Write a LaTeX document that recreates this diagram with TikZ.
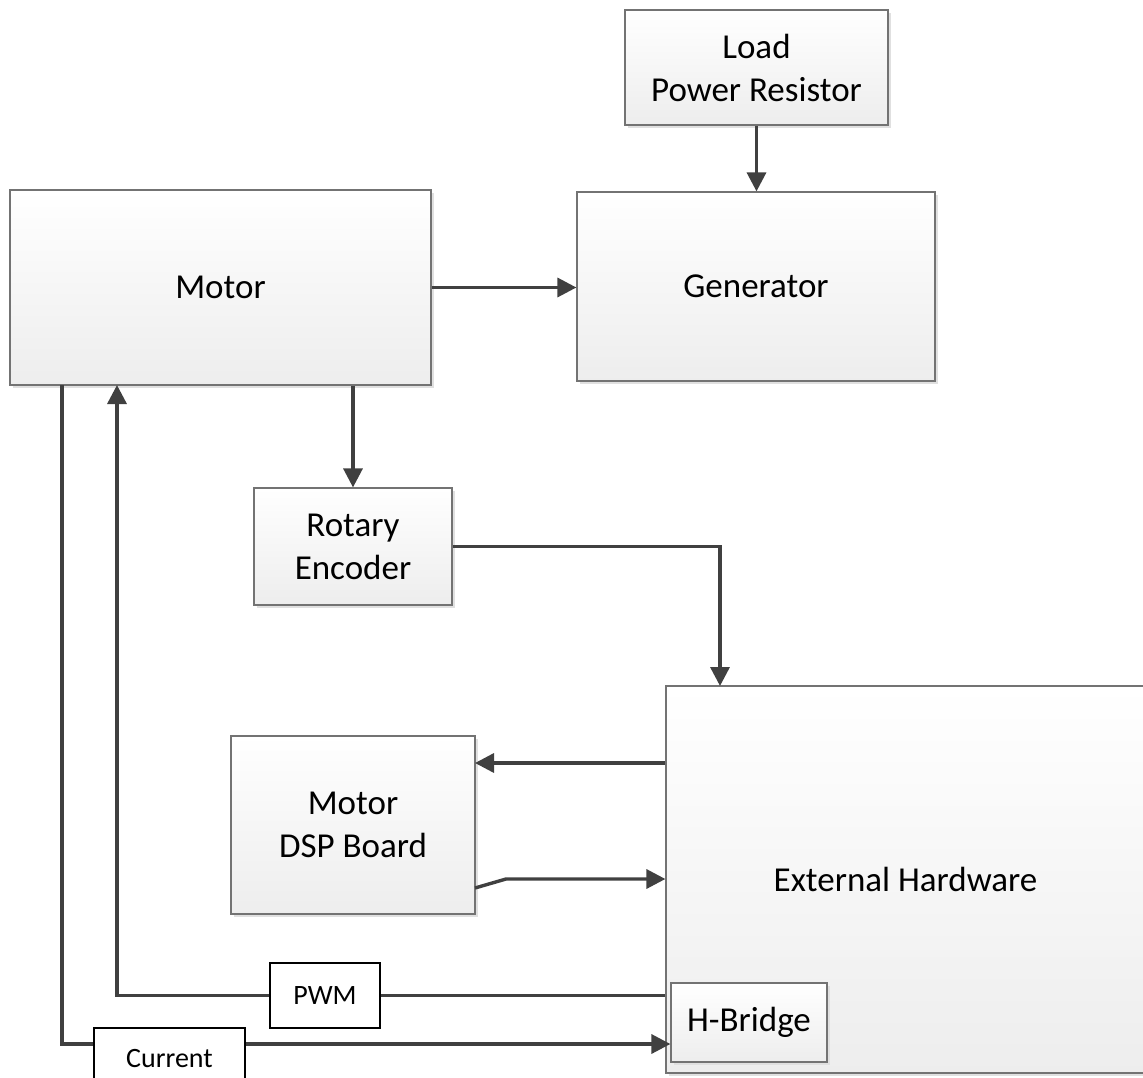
\documentclass[tikz,border=0pt]{standalone}
\usepackage{fontspec}
\setmainfont{Carlito}
\usetikzlibrary{arrows.meta,shadows,positioning}
\tikzset
{
    block/.style = {rectangle, draw=black!55, line width=1.2pt, top color=white, bottom color=black!7, drop shadow={shadow xshift=3pt, shadow yshift=-3pt, fill=black!12, opacity=1}, align=center, inner sep=0pt, font=\fontsize{35}{43}\selectfont},
    tag/.style   = {rectangle, draw=black, line width=2pt, fill=white, align=center, inner sep=0pt, font=\fontsize{28}{34}\selectfont},
    arrow/.style = {line width=3.4pt, draw=black!75, -{Triangle[length=19pt,width=19pt]}},
    wire/.style  = {line width=3.4pt, draw=black!75}
}
\begin{document}
\begin{tikzpicture}[x=1pt, y=-1pt]
    \useasboundingbox (0,0) rectangle (1143,1078);
    \node (load) [block, minimum width=263pt, minimum height=115pt] at (756.5,67.5)  {Load \\ Power Resistor};
    \node (gen)  [block, minimum width=358pt, minimum height=189pt] at (756,286.5)   {Generator};
    \node (motor)[block, minimum width=421pt, minimum height=195pt] at (220.5,287.5) {Motor};
    \node (enc)  [block, minimum width=198pt, minimum height=117pt] at (353,546.5)   {Rotary \\ Encoder};
    \node (ext)  [block, minimum width=479pt, minimum height=387pt] at (905.5,879.5) {External Hardware};
    \node (dsp)  [block, minimum width=244pt, minimum height=178pt] at (353,825)     {Motor \\ DSP Board};
    \node (hb)   [block, minimum width=156pt, minimum height=79pt]  at (749,1022.5)  {H-Bridge};
    \node (pwm)  [tag, minimum width=110pt, minimum height=65pt]    at (325,995.5)   {PWM};
    \node (cur)  [tag, minimum width=151pt, minimum height=62pt]    at (169.5,1059)  {Current};
    \coordinate (extin)  at (720,686);
    \coordinate (dspin)  at (475,763);
    \coordinate (dspout) at (475,888);
    \coordinate (bend)   at (506,879);
    \coordinate (pwmup)  at (117,385);
    \coordinate (curtop) at (62,385);
    \coordinate (curln)  at (62,1044);
    \draw[arrow] (motor.east) -- (motor.east -| gen.west);
    \draw[arrow] (load.south) -- (load.south |- gen.north);
    \draw[arrow] (enc.north |- motor.south) -- (enc.north);
    \draw[arrow] (enc.east) -| (extin);
    \draw[arrow] (dspin -| ext.west) -- (dspin);
    \draw[arrow] (dspout) -- (bend) -- (bend -| ext.west);
    \draw[wire]  (pwm.east -| ext.west) -- (pwm.east);
    \draw[arrow] (pwm.west) -- (pwmup |- pwm.west) -- (pwmup);
    \draw[wire]  (curtop) -- (curln) -- (curln -| cur.west);
    \draw[arrow] (curln -| cur.east) -- (curln -| hb.west);
\end{tikzpicture}
\end{document}
